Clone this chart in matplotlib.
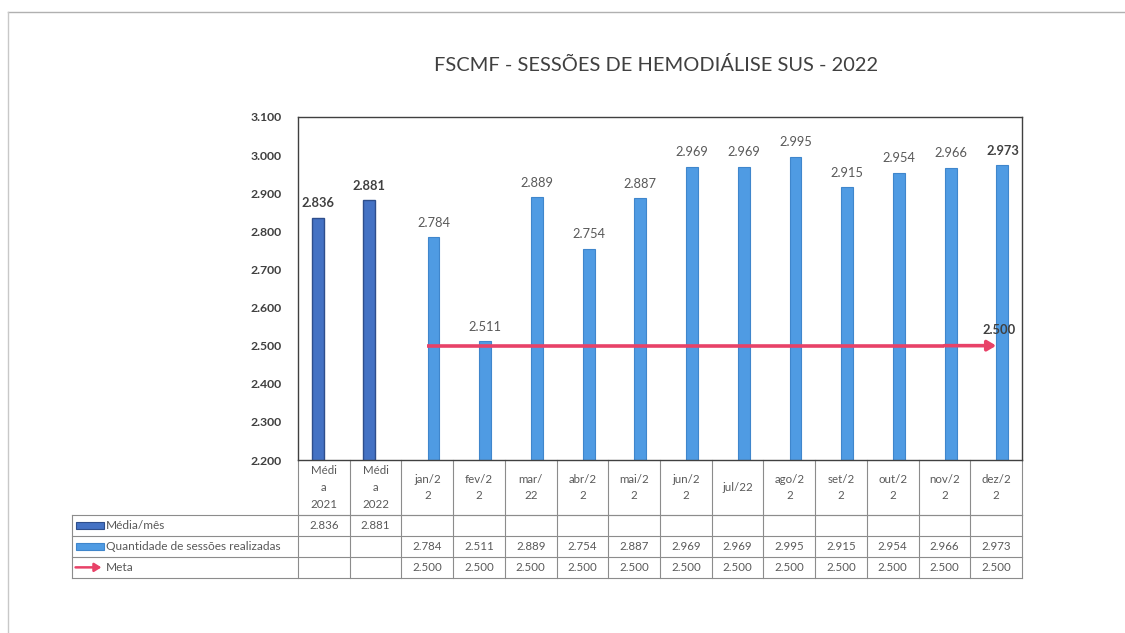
import matplotlib
matplotlib.use("Agg")
import matplotlib.pyplot as plt
import matplotlib.transforms as mtransforms
from matplotlib.patches import Rectangle, FancyArrowPatch
from matplotlib.ticker import FuncFormatter, MultipleLocator

# categories as printed in the data table (Excel wrapped them oddly)
categories = ["Médi\na\n2021", "Médi\na\n2022", "jan/2\n2", "fev/2\n2", "mar/\n22",
              "abr/2\n2", "mai/2\n2", "jun/2\n2", "jul/22", "ago/2\n2",
              "set/2\n2", "out/2\n2", "nov/2\n2", "dez/2\n2"]

media_mes = [2836, 2881] + [None] * 12
sessoes = [None, None, 2784, 2511, 2889, 2754, 2887, 2969, 2969, 2995,
           2915, 2954, 2966, 2973]
meta = [None, None] + [2500] * 12

row_labels = ["Média/mês", "Quantidade de sessões realizadas", "Meta"]

title = "FSCMF - SESSÕES DE HEMODIÁLISE SUS - 2022"

c_media = "#4472C4"
c_media_edge = "#2E4E8C"
c_sess = "#4F9BE3"
c_sess_edge = "#3F86CC"
c_meta = "#E84268"
c_text = "#595959"
c_grid = "#8C8C8C"

plt.rcParams["font.family"] = ["Lato", "DejaVu Sans"]


def fmt(v):
    return f"{v:,.0f}".replace(",", ".")


fig = plt.figure(figsize=(11.25, 6.33), dpi=100)
ax = fig.add_axes([0.2649, 0.2733, 0.6436, 0.5419])

n = len(categories)
xs = list(range(n))
bw = 0.23
off = 0.12

# bars
for i in xs:
    if media_mes[i] is not None:
        ax.bar(i - off, media_mes[i], width=bw, bottom=0, color=c_media,
               edgecolor=c_media_edge, linewidth=1.0, zorder=2)
        ax.annotate(fmt(media_mes[i]), (i - off, media_mes[i]), xytext=(0, 10.5),
                    textcoords="offset points", ha="center", va="center",
                    fontsize=9.3, fontweight="bold", color="#404040")
    if sessoes[i] is not None:
        ax.bar(i + off, sessoes[i], width=bw, bottom=0, color=c_sess,
               edgecolor=c_sess_edge, linewidth=0.8, zorder=2)
        last = i == n - 1
        ax.annotate(fmt(sessoes[i]), (i + off, sessoes[i]), xytext=(0, 10.5),
                    textcoords="offset points", ha="center", va="center",
                    fontsize=9.3, fontweight="bold" if last else "normal",
                    color="#404040" if last else c_text)

# meta line with arrow head
mx = [i for i in xs if meta[i] is not None]
my = [meta[i] for i in mx]
ax.plot(mx[:-1], my[:-1], color=c_meta, lw=2.6, zorder=3, solid_capstyle="butt")
ax.add_patch(FancyArrowPatch((mx[-2], my[-2]), (mx[-1], my[-1]),
                             arrowstyle="-|>,head_length=5,head_width=3",
                             color=c_meta, lw=2.6, zorder=3, shrinkA=0, shrinkB=0))
ax.annotate(fmt(my[-1]), (mx[-1], my[-1]), xytext=(2, 11),
            textcoords="offset points", ha="center", va="center",
            fontsize=9.3, fontweight="bold", color="#404040", zorder=4)

ax.set_xlim(-0.5, n - 0.5)
ax.set_ylim(2200, 3100)
ax.yaxis.set_major_locator(MultipleLocator(100))
ax.yaxis.set_major_formatter(FuncFormatter(lambda v, p: fmt(v)))
ax.tick_params(axis="y", length=0, pad=12, labelsize=8.8, labelcolor="#404040")
for lab in ax.get_yticklabels():
    lab.set_fontweight("bold")
ax.set_xticks([])
for s in ax.spines.values():
    s.set_color("#404040")
    s.set_linewidth(1.0)

# data table under the plot
tr = mtransforms.blended_transform_factory(ax.transData, ax.transAxes)
row_h = 0.0612
head_b = -0.160
ys = [0, head_b, head_b - row_h, head_b - 2 * row_h, head_b - 3 * row_h]
lab_x = -0.5 - (298 - 72) / 51.7
line_kw = dict(color=c_grid, lw=0.8, transform=tr, clip_on=False)

# horizontal lines
ax.plot([-0.5, n - 0.5], [ys[1], ys[1]], **line_kw)
for y in ys[1:]:
    ax.plot([lab_x, n - 0.5], [y, y], **line_kw)
# vertical lines
for k in range(n + 1):
    ax.plot([k - 0.5, k - 0.5], [ys[0], ys[-1]], **line_kw)
ax.plot([lab_x, lab_x], [ys[1], ys[-1]], **line_kw)

for i, c in enumerate(categories):
    ax.text(i, (ys[0] + ys[1]) / 2, c, transform=tr, ha="center", va="center",
            fontsize=8.3, color=c_text, linespacing=1.65)

series = [media_mes, sessoes, meta]
for r, vals in enumerate(series):
    yc = (ys[r + 1] + ys[r + 2]) / 2
    for i, v in enumerate(vals):
        if v is not None:
            ax.text(i, yc, fmt(v), transform=tr, ha="center", va="center",
                    fontsize=8.3, color=c_text)
    ax.text(lab_x + 0.66, yc, row_labels[r], transform=tr, ha="left",
            va="center", fontsize=8.6, color=c_text)

# legend keys in the row label cells
key_x0 = lab_x + 0.07
key_w = 0.55
for r, (fc, ec) in enumerate([(c_media, c_media_edge), (c_sess, c_sess_edge)]):
    yc = (ys[r + 1] + ys[r + 2]) / 2
    ax.add_patch(Rectangle((key_x0, yc - 0.011), key_w, 0.022, transform=tr,
                           facecolor=fc, edgecolor=ec, lw=0.8, clip_on=False))
yc = (ys[3] + ys[4]) / 2
ax.add_patch(FancyArrowPatch((key_x0, yc), (key_x0 + key_w - 0.05, yc), transform=tr,
                             arrowstyle="-|>,head_length=4,head_width=2.5",
                             color=c_meta, lw=1.8, clip_on=False,
                             shrinkA=0, shrinkB=0))

fig.text(0.583, 0.897, title, ha="center", va="center", fontsize=14.4,
         color="#404040")

# faint frame of the scanned page
fig.add_artist(plt.Line2D([8 / 1125, 1.0], [1 - 12 / 633, 1 - 12 / 633],
                          color="#B0B0B0", lw=1.0))
fig.add_artist(plt.Line2D([8 / 1125, 8 / 1125], [0, 1 - 12 / 633],
                          color="#C8C8C8", lw=1.0))

fig.savefig("out.png", dpi=100)
